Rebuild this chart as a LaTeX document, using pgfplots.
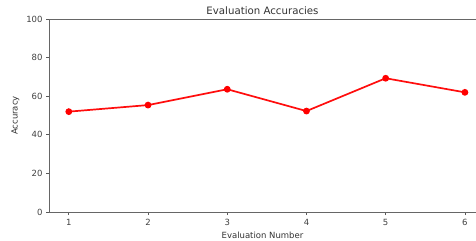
\documentclass[border=0pt]{standalone}
\usepackage{pgfplots}
\pgfplotsset{compat=1.18}
\usepackage{fontspec}
\setmainfont{DejaVu Sans}
\begin{document}
\begin{tikzpicture}
\begin{axis}[
  scale only axis,
  width=427bp, height=193bp,
  xmin=0.75, xmax=6.14,
  ymin=0, ymax=100,
  xtick={1,2,3,4,5,6},
  ytick={0,20,40,60,80,100},
  axis x line=box,
  axis y line=left,
  axis line style={-, black!60, line width=0.9bp},
  tick align=outside,
  xtick pos=bottom,
  ytick pos=left,
  major tick length=3bp,
  tick style={black!65, line width=0.7bp},
  /pgf/number format/assume math mode=true,
  ticklabel style={font=\fontsize{8.5bp}{9bp}\selectfont, text=black!75},
  xticklabel style={yshift=-1bp},
  label style={font=\fontsize{8.5bp}{9bp}\selectfont, text=black!80},
  xlabel style={yshift=1bp},
  title style={font=\fontsize{10.2bp}{11bp}\selectfont, text=black!80, yshift=-5bp},
  title={Evaluation Accuracies},
  xlabel={Evaluation Number},
  ylabel={Accuracy},
  clip=false,
]
\addplot[red!95, line width=1.7bp, mark=*, mark size=2.5bp, mark options={fill=red, draw=red}]
  coordinates {(1,52.0) (2,55.4) (3,63.6) (4,52.3) (5,69.3) (6,62.0)};
\end{axis}
\pgfresetboundingbox
\path (current axis.south west) ++(-49bp,-29bp) rectangle ++(476bp,241bp);
\end{tikzpicture}
\end{document}
